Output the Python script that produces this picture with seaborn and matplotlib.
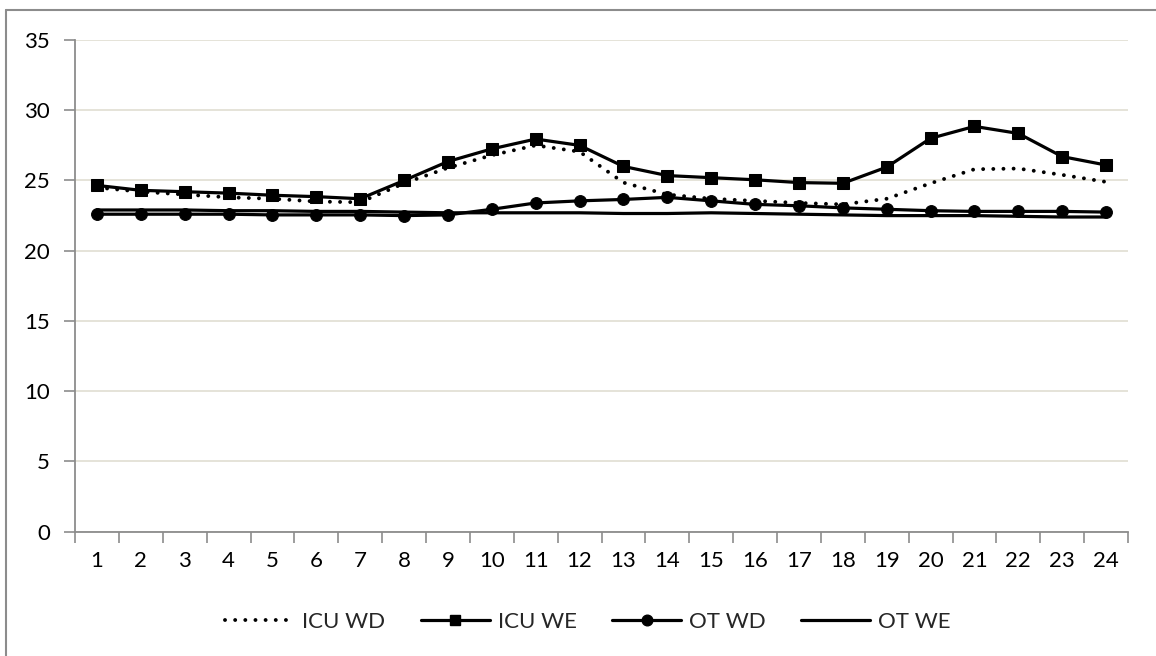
import matplotlib
matplotlib.use("Agg")
import matplotlib.pyplot as plt
from matplotlib.lines import Line2D
import seaborn as sns
import pandas as pd

hours = list(range(1, 25))
icu_wd = [24.5, 24.2, 24.0, 23.8, 23.7, 23.5, 23.45, 24.8, 25.9, 26.8, 27.5, 27.05,
          24.85, 24.0, 23.7, 23.55, 23.4, 23.3, 23.7, 24.8, 25.8, 25.85, 25.4, 24.9]
icu_we = [24.65, 24.3, 24.2, 24.1, 23.95, 23.85, 23.7, 25.0, 26.35, 27.25, 27.95, 27.5,
          26.0, 25.35, 25.2, 25.05, 24.85, 24.8, 25.95, 28.0, 28.85, 28.35, 26.7, 26.1]
ot_wd = [22.6, 22.6, 22.6, 22.6, 22.55, 22.55, 22.55, 22.5, 22.55, 22.95, 23.4, 23.55,
         23.65, 23.8, 23.55, 23.3, 23.2, 23.05, 22.95, 22.85, 22.8, 22.8, 22.8, 22.75]
ot_we = [22.9, 22.9, 22.9, 22.85, 22.85, 22.8, 22.8, 22.75, 22.7, 22.7, 22.7, 22.7,
         22.65, 22.65, 22.7, 22.65, 22.6, 22.55, 22.5, 22.5, 22.5, 22.45, 22.4, 22.4]
series_names = ["ICU WD", "ICU WE", "OT WD", "OT WE"]
y_ticks = [0, 5, 10, 15, 20, 25, 30, 35]

df = pd.DataFrame({"hour": hours, "ICU WD": icu_wd, "ICU WE": icu_we,
                   "OT WD": ot_wd, "OT WE": ot_we})

sns.set_theme(style="white")
plt.rcParams["font.family"] = ["Lato", "DejaVu Sans"]

fig = plt.figure(figsize=(11.56, 6.56), dpi=100)
ax = fig.add_axes([75 / 1156, 1 - 531.7 / 656, (1128 - 75) / 1156, (531.7 - 40) / 656])

lw = 2.3
grid_c = "#e3e0d6"
axis_c = "#8c8c8c"

styles = {
    "ICU WD": dict(linestyle=(0, (0.01, 2.6)), marker=None, lw=2.8),
    "ICU WE": dict(linestyle="-", marker="s", markersize=8.5, lw=lw),
    "OT WD": dict(linestyle="-", marker="o", markersize=8.5, lw=lw),
    "OT WE": dict(linestyle="-", marker=None, lw=lw),
}

for name in series_names:
    st = styles[name]
    sns.lineplot(data=df, x="hour", y=name, ax=ax, color="black", linewidth=st["lw"],
                 marker=st.get("marker"), markersize=st.get("markersize", 0),
                 markeredgecolor="black", markerfacecolor="black",
                 label=name, legend=False)
    ln = ax.get_lines()[-1]
    ln.set_linestyle(st["linestyle"])
    ln.set_dash_capstyle("round")

ax.set_xlim(0.5, 24.5)
ax.set_ylim(0, 35)
ax.set_yticks(y_ticks)
ax.set_yticklabels([str(v) for v in y_ticks])
ax.set_xticks([h + 0.5 for h in [0] + hours])
ax.set_xticklabels([])
ax.set_xticks(hours, minor=True)
ax.set_xticklabels([str(h) for h in hours], minor=True)
ax.tick_params(axis="x", which="major", direction="out", length=8, width=1.2,
               color=axis_c, bottom=True)
ax.tick_params(axis="x", which="minor", length=0, pad=14, labelsize=16, labelcolor="black")
ax.tick_params(axis="y", direction="out", length=8, width=1.2, color=axis_c,
               left=True, pad=10, labelsize=16, labelcolor="black")
ax.set_xlabel("")
ax.set_ylabel("")

ax.yaxis.grid(True, color=grid_c, linewidth=1.3)
ax.xaxis.grid(False)
ax.set_axisbelow(True)
for s in ["top", "right"]:
    ax.spines[s].set_visible(False)
for s in ["left", "bottom"]:
    ax.spines[s].set_color(axis_c)
    ax.spines[s].set_linewidth(1.3)

handles = []
for name in series_names:
    st = styles[name]
    h = Line2D([0], [0], color="black", linewidth=st["lw"], linestyle=st["linestyle"],
               marker=st.get("marker"), markersize=st.get("markersize", 0) * 0.9,
               dash_capstyle="round")
    handles.append(h)
fig.legend(handles, series_names, loc="center", bbox_to_anchor=(588 / 1156, 1 - 622 / 656),
           ncol=4, frameon=False, fontsize=16, handlelength=3.1, handletextpad=0.36,
           columnspacing=1.6)

# outer border (top and left visible in the reference)
fig.add_artist(Line2D([6 / 1156, 6 / 1156], [0, 1 - 10 / 656], transform=fig.transFigure,
                      color="#8c8c8c", linewidth=1.5))
fig.add_artist(Line2D([6 / 1156, 1], [1 - 10 / 656, 1 - 10 / 656], transform=fig.transFigure,
                      color="#8c8c8c", linewidth=1.5))

fig.savefig("out.png", dpi=100)
